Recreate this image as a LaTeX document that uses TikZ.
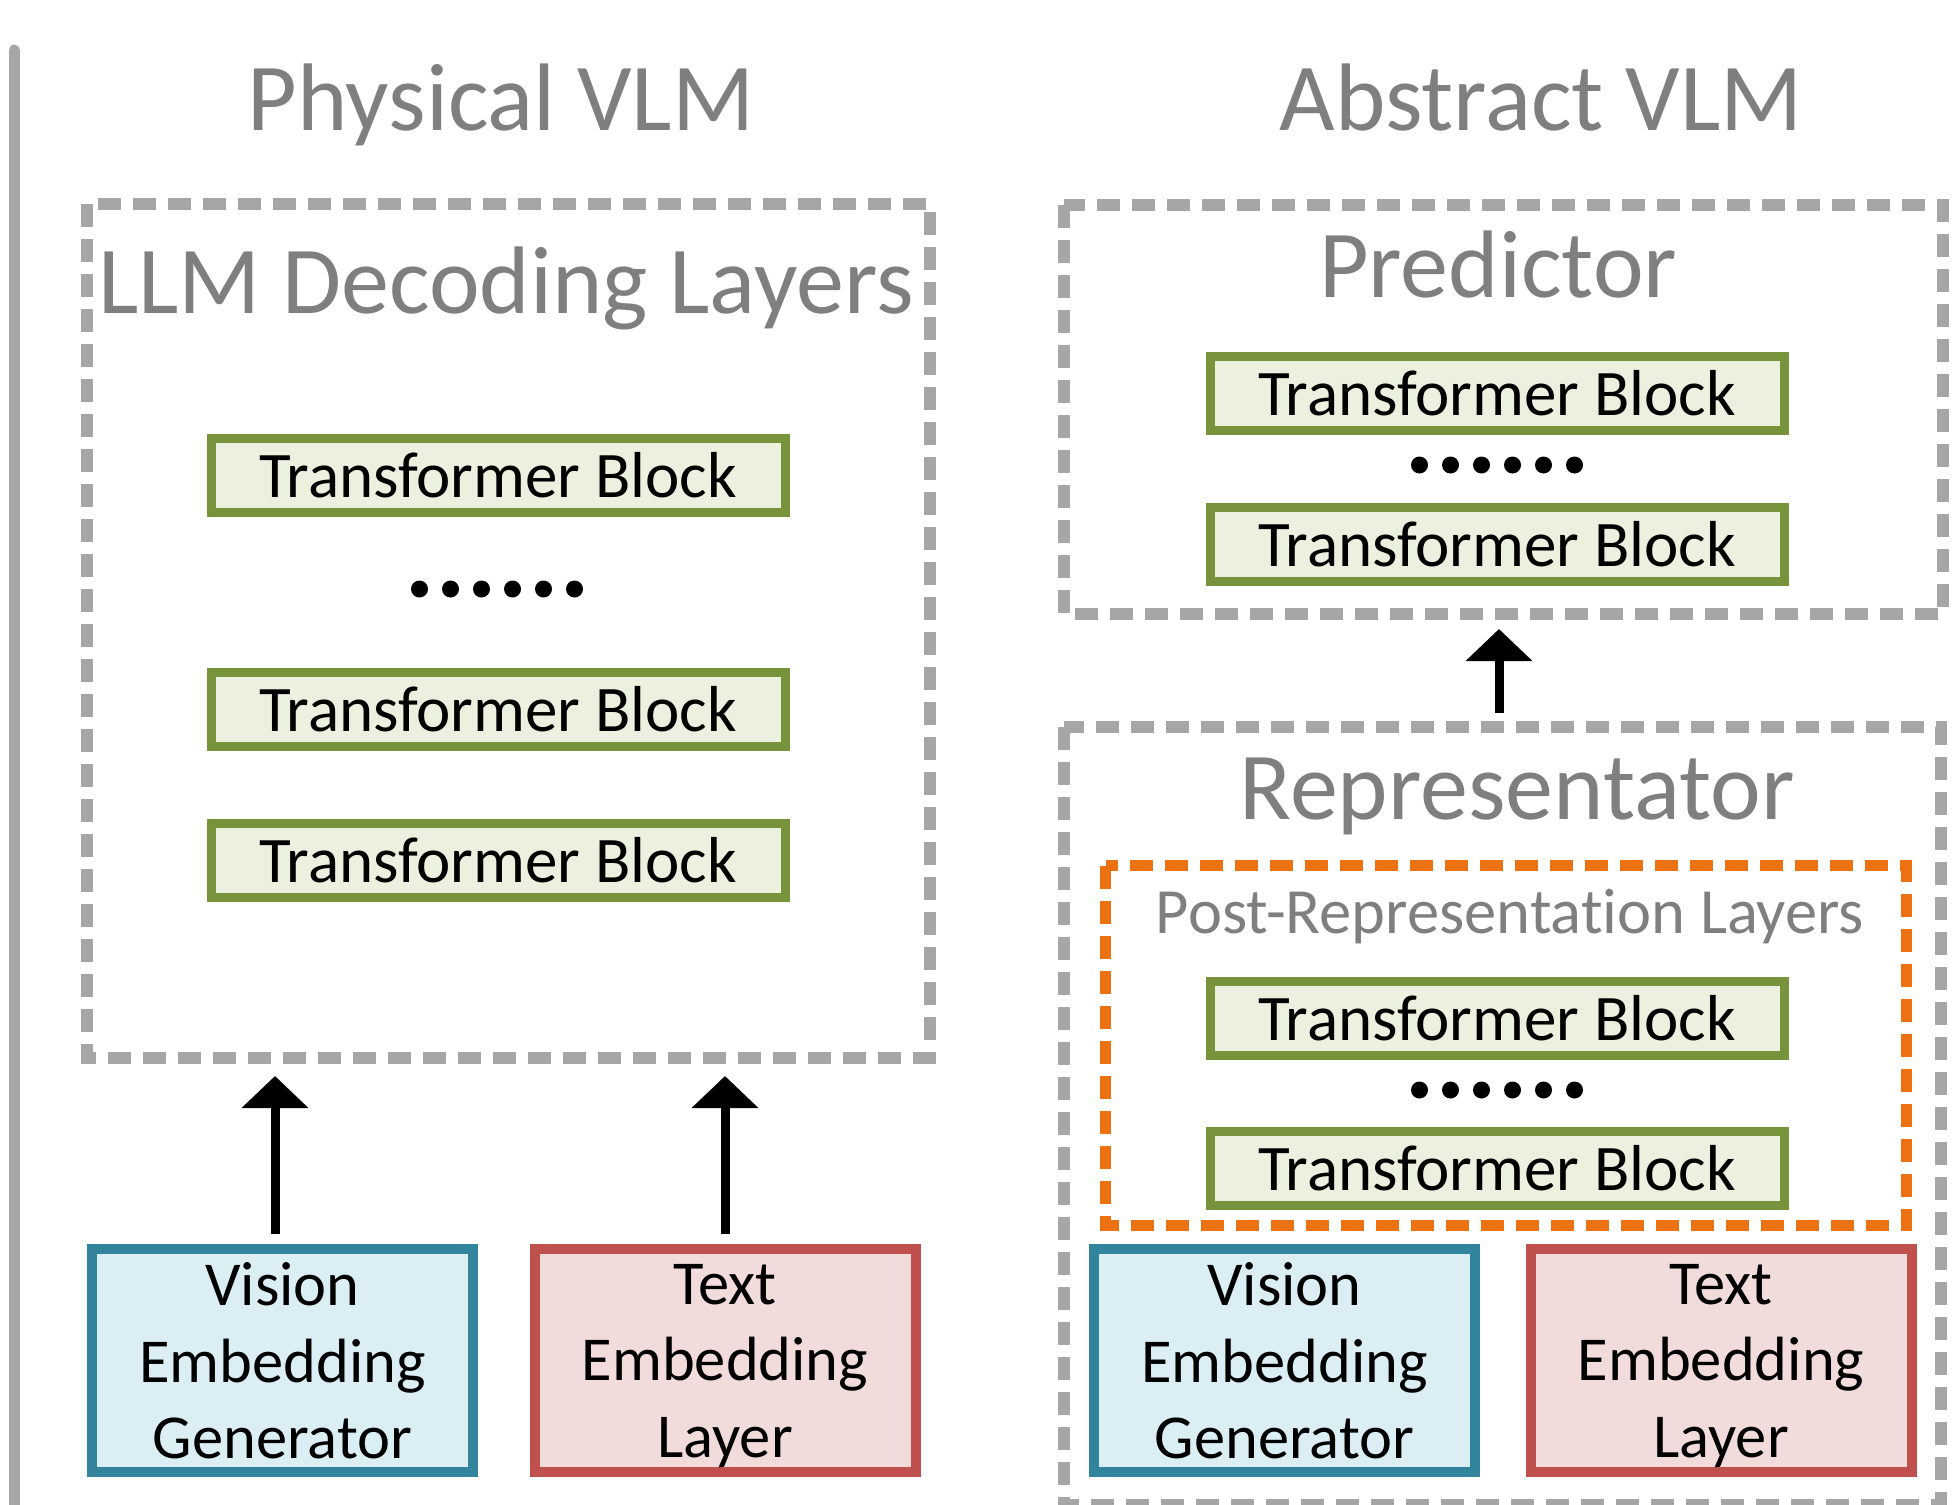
\documentclass[tikz,border=0pt]{standalone}
\usepackage{fontspec}
\setmainfont{Carlito}[Ligatures=NoCommon]
\usetikzlibrary{arrows.meta}
\definecolor{dgray}{HTML}{A6A6A6}
\definecolor{tgray}{HTML}{7F7F7F}
\definecolor{grn}{HTML}{77933C}
\definecolor{grnfill}{HTML}{EBF1DE}
\definecolor{blu}{HTML}{31849B}
\definecolor{blufill}{HTML}{DAEEF3}
\definecolor{rd}{HTML}{C0504D}
\definecolor{rdfill}{HTML}{F2DCDB}
\definecolor{orng}{HTML}{EC7211}
\begin{document}
\begin{tikzpicture}[x=1pt,y=-1pt,
  frame/.style={inner sep=0pt, outer sep=0pt},
  graybox/.style={draw=dgray, line width=12pt, dash pattern=on 23pt off 12pt, line cap=butt},
  orangebox/.style={draw=orng, line width=11pt, dash pattern=on 23pt off 12pt, line cap=butt},
  tb/.style={draw=grn, fill=grnfill, line width=9pt, minimum width=574pt, minimum height=74pt, inner sep=0pt, font=\fontsize{65}{74}\selectfont},
  emb/.style={line width=10pt, minimum width=381pt, minimum height=223pt, inner sep=0pt, align=center, text depth=0pt, font=\fontsize{62.5}{76.5}\selectfont},
  vis/.style={emb, draw=blu, fill=blufill},
  txt/.style={emb, draw=rd, fill=rdfill},
  bigtitle/.style={anchor=base, text=tgray, inner sep=0pt, font=\fontsize{96}{110}\selectfont},
  subtitle/.style={anchor=base, text=tgray, inner sep=0pt, font=\fontsize{64.5}{74}\selectfont},
  arr/.style={line width=9pt, -{Triangle[width=65pt,length=32pt]}},
  dot/.style={fill=black}
]
\useasboundingbox (0,0) rectangle (1958,1504);

% left separator line
\coordinate (sepTop) at (14,50);
\coordinate (sepBot) at (14,1530);
\draw[dgray, line width=11pt, line cap=round] (sepTop) -- (sepBot);

% titles
\node[bigtitle] (physT) at (501,130) {Physical VLM};
\node[bigtitle] (absT) at (1541,130) {Abstract VLM};

% ---------- Physical VLM ----------
\node[frame, minimum width=843pt, minimum height=854pt] (llm) at (508.5,631) {};
\draw[graybox] (llm.north west) rectangle (llm.south east);
\node[bigtitle] (llmT) at (506,313) {LLM Decoding Layers};
\node[tb] (l1) at (498,475) {Transformer Block};
\coordinate (ldots) at (497,589);
\node[tb] (l2) at (498,709.5) {Transformer Block};
\node[tb] (l3) at (498,860.5) {Transformer Block};
\foreach \i in {0,...,5} \fill[dot] ([xshift={\i*31pt-77.5pt}]ldots) circle (8.5pt);

\node[vis] (vis1) at (282.5,1360.5) {Vision\\Embedding\\Generator};
\node[txt] (txt1) at (725,1360.5) {Text\\Embedding\\Layer};

\coordinate (va) at ([xshift=-7.5pt]vis1.north);
\draw[arr, shorten <=10pt, shorten >=18pt] (va) -- (va |- llm.south);
\draw[arr, shorten <=10pt, shorten >=18pt] (txt1.north) -- (txt1.north |- llm.south);

% ---------- Abstract VLM ----------
\node[frame, minimum width=879pt, minimum height=409pt] (pred) at (1503.5,409.5) {};
\draw[graybox] (pred.north west) rectangle (pred.south east);
\node[bigtitle] (predT) at (1498,297) {Predictor};
\node[tb] (p1) at (1497,393) {Transformer Block};
\coordinate (pdots) at (1497,465);
\node[tb] (p2) at (1497,544.5) {Transformer Block};
\foreach \i in {0,...,5} \fill[dot] ([xshift={\i*31pt-77.5pt}]pdots) circle (8.5pt);

\node[frame, minimum width=877pt, minimum height=778pt] (repr) at (1502.5,1116) {};
\draw[graybox] (repr.north west) rectangle (repr.south east);
\node[bigtitle] (reprT) at (1517,819) {Representator};
\node[frame, minimum width=801pt, minimum height=360pt] (post) at (1506,1045.5) {};
\draw[orangebox] (post.north west) rectangle (post.south east);
\node[subtitle] (postT) at (1510,933) {Post-Representation Layers};
\node[tb] (r1) at (1497,1018) {Transformer Block};
\coordinate (rdots) at (1497,1090);
\node[tb] (r2) at (1497,1168) {Transformer Block};
\foreach \i in {0,...,5} \fill[dot] ([xshift={\i*31pt-77.5pt}]rdots) circle (8.5pt);

\node[vis] (vis2) at (1284.5,1360.5) {Vision\\Embedding\\Generator};
\node[txt] (txt2) at (1721,1360.5) {Text\\Embedding\\Layer};

\coordinate (ra) at ([xshift=-3.5pt]repr.north);
\draw[arr, shorten <=14pt, shorten >=15pt] (ra) -- (ra |- pred.south);
\end{tikzpicture}
\end{document}
